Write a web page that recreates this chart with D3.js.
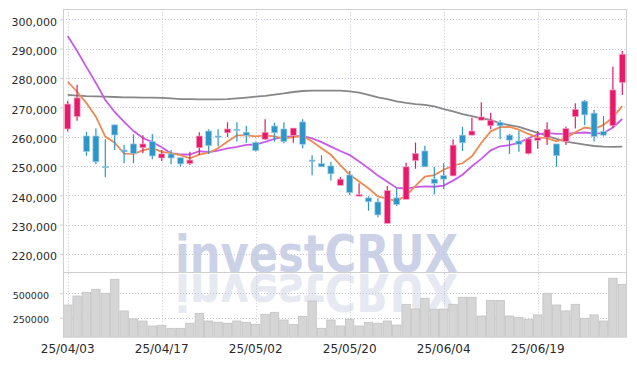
<!DOCTYPE html>
<html><head><meta charset="utf-8">
<script src="https://cdn.jsdelivr.net/npm/d3@7"></script>
<style>body{margin:0;background:#fff}svg{display:block}</style>
</head><body><svg id="c" width="637" height="366"></svg>
<script>
const dates = ["25/04/03","25/04/04","25/04/07","25/04/08","25/04/09","25/04/10","25/04/11","25/04/14","25/04/15","25/04/16",
"25/04/17","25/04/18","25/04/21","25/04/22","25/04/23","25/04/24","25/04/25","25/04/28","25/04/29","25/04/30",
"25/05/02","25/05/07","25/05/08","25/05/09","25/05/12","25/05/13","25/05/14","25/05/15","25/05/16","25/05/19",
"25/05/20","25/05/21","25/05/22","25/05/23","25/05/26","25/05/27","25/05/28","25/05/29","25/05/30","25/06/02",
"25/06/04","25/06/05","25/06/09","25/06/10","25/06/11","25/06/12","25/06/13","25/06/16","25/06/17","25/06/18",
"25/06/19","25/06/20","25/06/23","25/06/24","25/06/25","25/06/26","25/06/27","25/06/30","25/07/01","25/07/02"];
const opens = [262600,266800,260200,260200,249800,264000,255400,257500,256200,258300,
252700,254100,252800,250800,256200,261900,260200,261300,262500,261500,
258000,259100,263600,262600,260400,265000,252000,250800,250000,243400,
246900,239700,239100,237700,230400,239100,238600,251800,255100,245500,
246700,246600,260500,260500,265600,263700,264900,260500,258500,254200,
258700,259600,257500,258300,266800,272100,268000,261700,263700,278400];
const highs = [272200,277700,261600,262800,259100,264000,257100,260800,260500,260900,
255400,255400,252800,254800,261500,262500,262500,264900,264900,263600,
258300,265900,264700,264900,262900,265900,253600,253600,251400,246200,
248400,244100,239700,239000,243200,242400,251100,258000,256900,249600,
250900,259100,263400,266400,271700,268100,265600,260900,261900,259500,
261900,264900,257500,263400,271400,272500,269100,267000,283800,289200];
const lows = [261700,265400,253500,250600,246100,255400,250900,250900,254300,252300,
251700,250600,249900,250300,253700,254100,256600,259900,258300,257900,
254900,258800,258300,257700,257900,256000,246800,249700,245000,243400,
240100,239700,234700,232500,230400,236300,238600,249000,249700,240300,
242100,246600,255100,260500,265600,262500,259100,254100,254800,253900,
255900,257100,249700,257100,262800,263900,258300,260000,263000,274200];
const closes = [271100,273200,254900,251400,249400,260550,254800,254300,257500,253400,
254100,252700,250700,252000,260200,256900,260000,262600,262300,260400,
255200,261500,261300,258300,262900,257400,251800,249700,247300,245500,
240900,240300,237800,233300,241600,236900,249700,254300,249700,244100,
245500,257100,257900,261900,266700,265600,263700,258800,257400,259200,
259600,262500,253500,262800,269300,267400,260000,260500,275900,288100];
const volumes = [380000,472000,510000,541000,500000,643000,319000,237000,216000,165000,
172000,141000,141000,193000,295000,216000,203000,193000,216000,203000,
182000,285000,305000,226000,182000,264000,421000,141000,226000,165000,
234000,165000,203000,193000,216000,175000,387000,339000,449000,336000,
339000,387000,459000,459000,267000,428000,428000,267000,254000,234000,
278000,500000,380000,319000,387000,244000,278000,216000,654000,592000];
const ma5 = [278700,275300,271400,266800,260000,257900,254200,254100,255300,256100,
254800,254400,253700,252600,253900,254500,256000,258300,260400,260400,
260100,260400,260100,259300,259800,260300,258300,256000,253800,250300,
247000,244700,242400,239600,238800,238000,239900,243200,246400,246900,
248700,250100,250900,253300,257800,261800,263200,263300,262400,260900,
259700,259500,258400,259500,261500,263100,262600,264000,266600,270400];
const ma10 = [294300,289200,283700,278300,272500,268400,265000,261900,259500,258100,
256400,254300,253900,253900,255000,254700,255200,256000,256500,257200,
257300,258200,259200,259900,260100,260200,259400,258100,256600,255100,
253700,251500,249200,246700,244600,242500,242300,242800,243000,242900,
243300,245000,247000,249900,252400,255300,256700,257100,257900,259400,
260800,261300,260900,261000,261200,261400,261100,261200,263100,266000];
const ma60 = [274200,274000,273800,273700,273600,273500,273400,273400,273300,273300,
273200,273000,272800,272750,272700,272700,272700,272750,273000,273300,
273600,273900,274300,274700,275200,275550,275650,275700,275700,275700,
275400,275000,274200,273400,272800,272000,271500,271100,270800,270300,
269400,268600,267700,267000,266200,265700,264500,263900,263300,262300,
261300,260200,259200,258300,257800,257300,256800,256600,256500,256600];
const priceTicks = [220000,230000,240000,250000,260000,270000,280000,290000,300000];
const volumeTicks = [250000,500000];
const dateTicks = ["25/04/03","25/04/17","25/05/02","25/05/20","25/06/04","25/06/19"];

const L=63, R=627, PT=9.3, PB=272.7, VB=337.3;
const svg = d3.select("#c");
const x = d3.scaleBand().domain(dates).range([L,R]).padding(0);
const cx = d => x(d) + x.bandwidth()/2;
const y = d3.scaleLinear().domain([213600,303400]).range([PB,PT]);
const yv = d3.scaleLinear().domain([49000,711000]).range([VB,PB]);

const defs = svg.append("defs");
defs.append("clipPath").attr("id","cp").append("rect").attr("x",L).attr("y",PT).attr("width",R-L).attr("height",PB-PT);
defs.append("clipPath").attr("id","cv").append("rect").attr("x",L).attr("y",PB+0.5).attr("width",R-L).attr("height",VB-PB);

// watermark
const WF = "'DejaVu Sans', sans-serif";
svg.append("text").attr("x",316.5).attr("y",272).attr("text-anchor","middle")
  .attr("font-family",WF).attr("font-weight","bold").attr("font-size",51)
  .attr("textLength",283).attr("lengthAdjust","spacingAndGlyphs")
  .attr("fill","#cbd2e8").text("investCRUX");
svg.append("g").attr("clip-path","url(#cv)").append("text")
  .attr("x",316.5).attr("y",272).attr("text-anchor","middle")
  .attr("transform","translate(0,546) scale(1,-1)")
  .attr("font-family",WF).attr("font-weight","bold").attr("font-size",51)
  .attr("textLength",283).attr("lengthAdjust","spacingAndGlyphs")
  .attr("fill","#e6e9f2").text("investCRUX");

// grid
const grid = svg.append("g").attr("stroke","#c4c7d6").attr("stroke-dasharray","1,2").attr("stroke-width",1);
priceTicks.forEach(t => grid.append("line").attr("x1",L).attr("x2",R).attr("y1",Math.round(y(t))+0.5).attr("y2",Math.round(y(t))+0.5));
volumeTicks.forEach(t => grid.append("line").attr("x1",L).attr("x2",R).attr("y1",Math.round(yv(t))+0.5).attr("y2",Math.round(yv(t))+0.5));
dateTicks.forEach(d => grid.append("line").attr("x1",Math.round(cx(d))+0.5).attr("x2",Math.round(cx(d))+0.5).attr("y1",PT).attr("y2",VB));

// volume bars
svg.append("g").attr("clip-path","url(#cv)").selectAll("rect").data(dates).join("rect")
  .attr("x",d=>x(d)+0.5).attr("width",x.bandwidth()-1)
  .attr("y",(d,i)=>yv(volumes[i])).attr("height",(d,i)=>VB-yv(volumes[i]))
  .attr("fill","#d5d5d5").attr("stroke","#c2c2c2").attr("stroke-width",0.8);

// frame
const fr = svg.append("g").attr("stroke","#cfcfcf").attr("stroke-width",1);
fr.append("line").attr("x1",L).attr("x2",R).attr("y1",9.5).attr("y2",9.5);
fr.append("line").attr("x1",L).attr("x2",R).attr("y1",272.5).attr("y2",272.5);
fr.append("line").attr("x1",63.5).attr("x2",63.5).attr("y1",PT).attr("y2",VB);
fr.append("line").attr("x1",626.5).attr("x2",626.5).attr("y1",PT).attr("y2",VB);

// MA lines
const pl = svg.append("g").attr("clip-path","url(#cp)");
const line = d3.line().x((d,i)=>cx(dates[i])).y(d=>y(d));
pl.append("path").datum(ma60).attr("d",line).attr("fill","none").attr("stroke","#878787").attr("stroke-width",1.8);
pl.append("path").datum(ma10).attr("d",line).attr("fill","none").attr("stroke","#c95ae8").attr("stroke-width",1.8);
pl.append("path").datum(ma5).attr("d",line).attr("fill","none").attr("stroke","#ee8a52").attr("stroke-width",1.8);

// candles
const UP="#e6196b", DN="#2d95c7";
const cg = pl.append("g");
dates.forEach((d,i)=>{
  const o=opens[i], c=closes[i], col = c>=o?UP:DN, lt = c>=o?"#f4a6c4":"#9fcde6";
  const xc = cx(d);
  cg.append("line").attr("x1",xc).attr("x2",xc).attr("y1",y(highs[i])).attr("y2",y(lows[i])).attr("stroke",col).attr("stroke-width",1.2);
  const top=y(Math.max(o,c)), bot=y(Math.min(o,c));
  cg.append("rect").attr("x",xc-3).attr("width",6).attr("y",top).attr("height",Math.max(1.2,bot-top))
    .attr("fill",col).attr("stroke",lt).attr("stroke-width",0.7);
});

// axes
const AF = "'DejaVu Sans', sans-serif";
const ya = svg.append("g").attr("transform",`translate(${L},0)`)
  .call(d3.axisLeft(y).tickValues(priceTicks).tickSize(3).tickPadding(3).tickFormat(d3.format(",")));
ya.select(".domain").remove();
ya.selectAll(".tick line").attr("stroke","#cfcfcf");
ya.selectAll("text").attr("font-family",AF).attr("font-size",11).attr("fill","#2a2a2a").attr("dy","0.55em");

const va = svg.append("g").attr("transform",`translate(${L},0)`)
  .call(d3.axisLeft(yv).tickValues(volumeTicks).tickSize(3).tickPadding(11).tickFormat(d=>String(d)));
va.select(".domain").remove();
va.selectAll(".tick line").attr("stroke","#cfcfcf");
va.selectAll("text").attr("font-family",AF).attr("font-size",9.5).attr("fill","#2a2a2a").attr("dy","0.5em");

const xa = svg.append("g").attr("transform",`translate(0,${VB})`)
  .call(d3.axisBottom(x).tickValues(dateTicks).tickSize(0).tickPadding(7));
xa.select(".domain").remove();
xa.selectAll("text").attr("font-family",AF).attr("font-size",12).attr("fill","#2a2a2a");
</script></body></html>
